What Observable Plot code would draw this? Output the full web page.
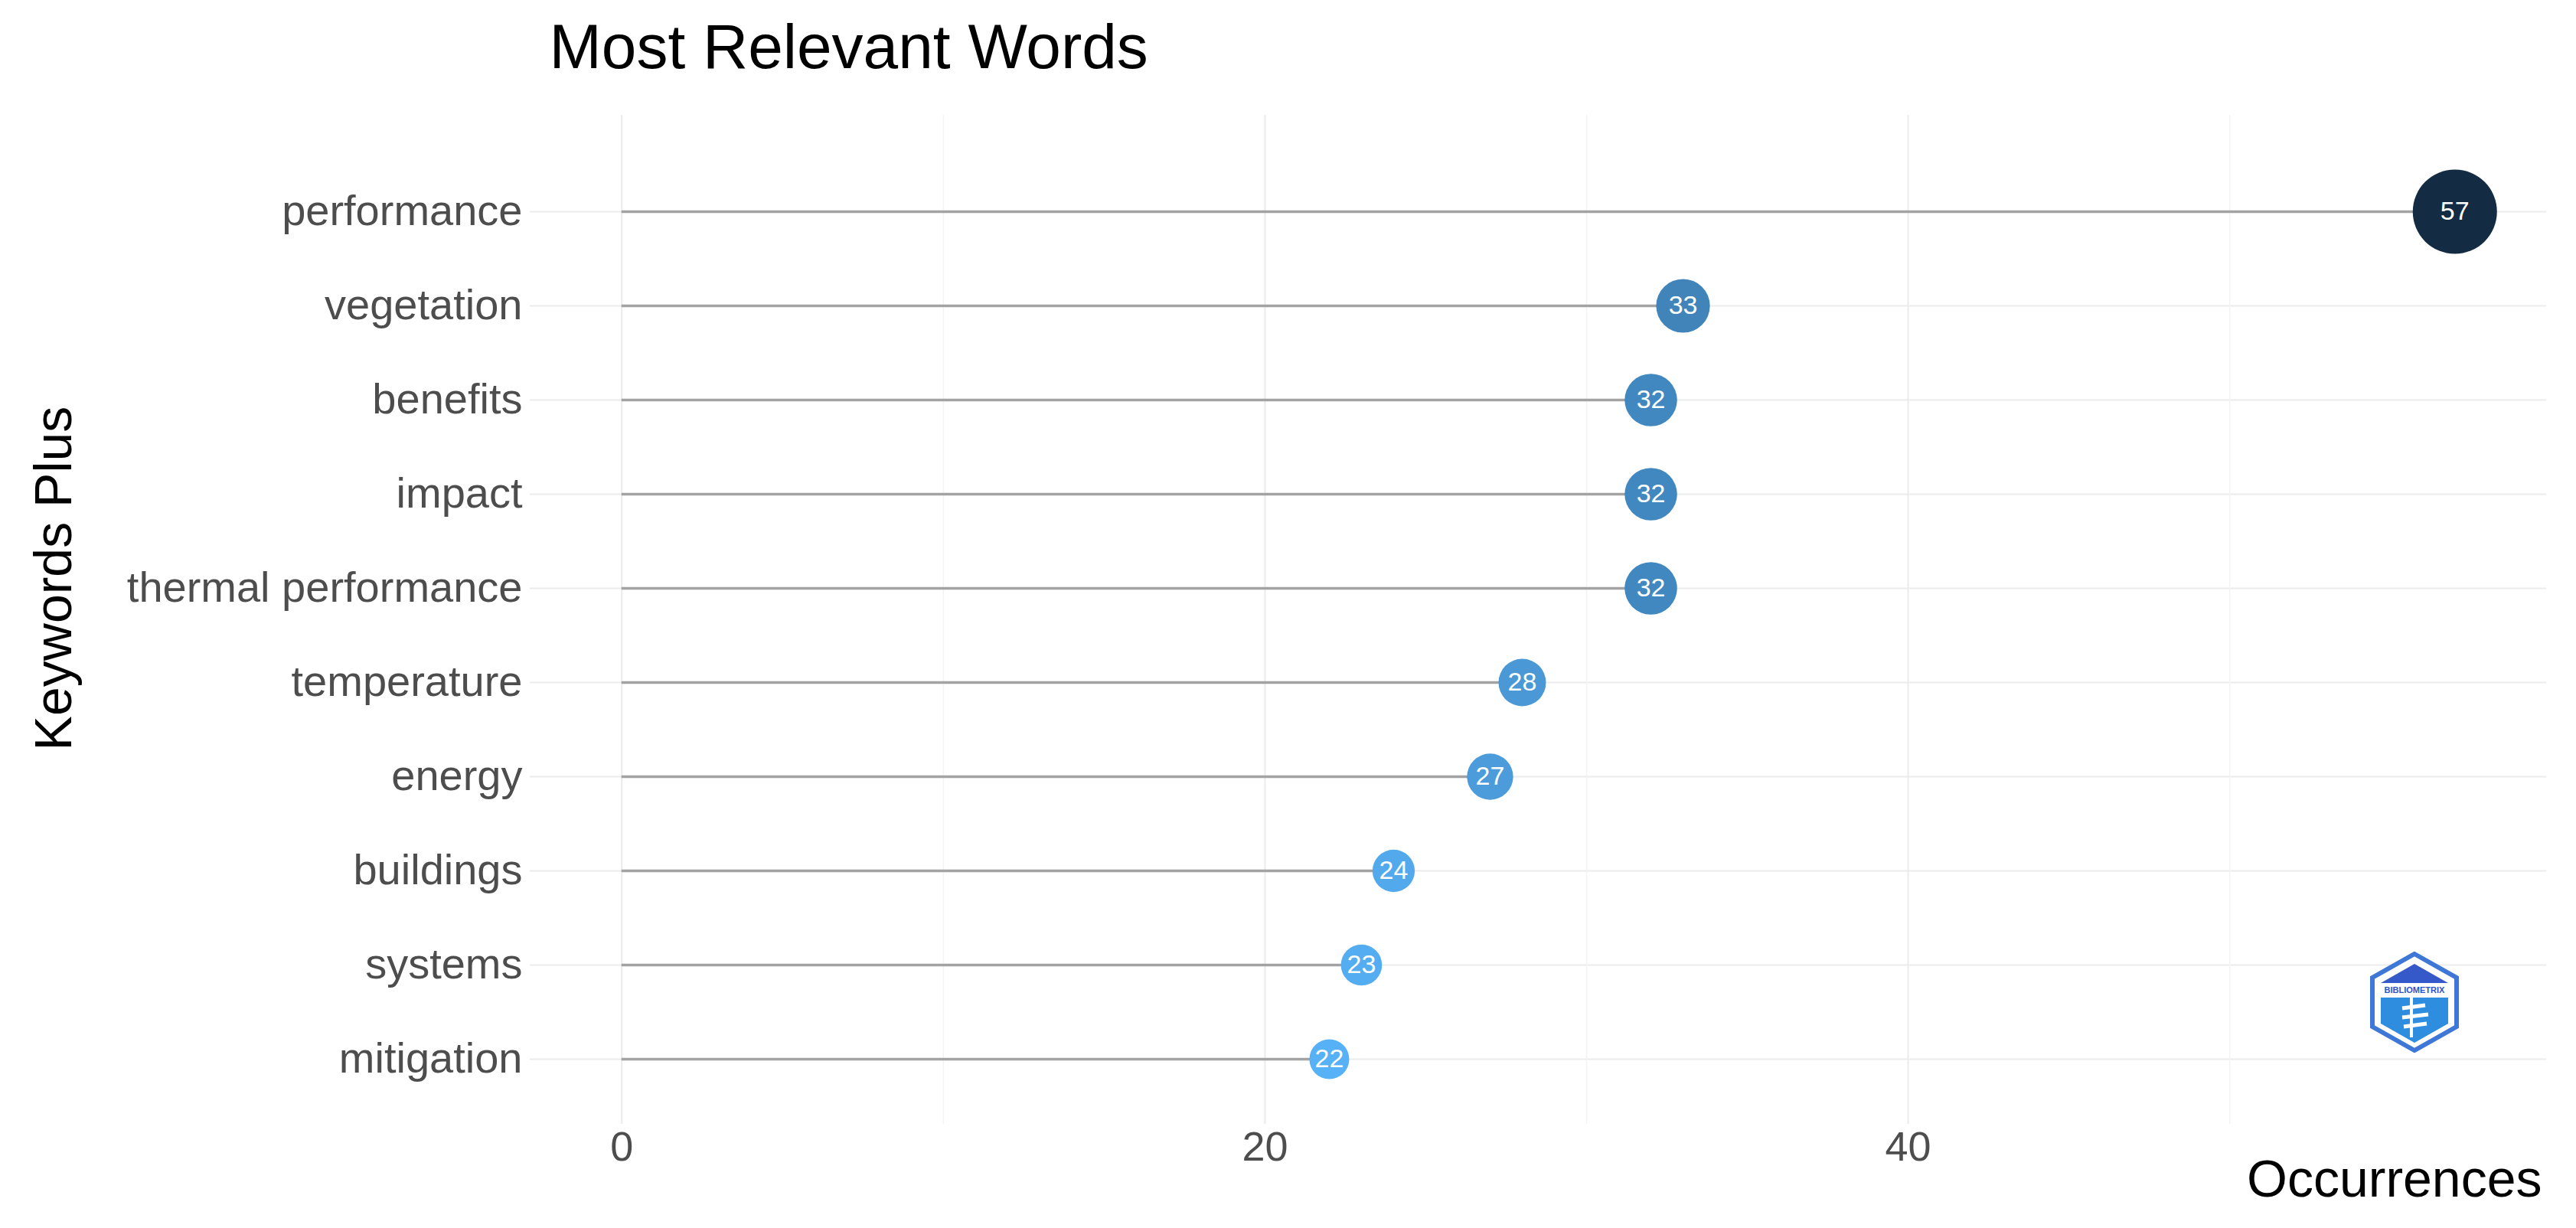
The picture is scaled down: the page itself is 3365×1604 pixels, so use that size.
<!DOCTYPE html>
<html>
<head>
<meta charset="utf-8">
<script src="https://cdn.jsdelivr.net/npm/d3@7"></script>
<script src="https://cdn.jsdelivr.net/npm/@observablehq/plot@0.6"></script>
<style>
  html, body { margin: 0; padding: 0; background: #ffffff; }
  #wrap { position: relative; width: 3365px; height: 1604px; overflow: hidden; }
  #logo { position: absolute; left: 3094px; top: 1243px; width: 120px; height: 132px; }
</style>
</head>
<body>
<div id="wrap"></div>
<script>
// ---- data ----
const words = ["performance", "vegetation", "benefits", "impact", "thermal performance",
               "temperature", "energy", "buildings", "systems", "mitigation"];
const occurrences = [57, 33, 32, 32, 32, 28, 27, 24, 23, 22];
const xTicks = [0, 20, 40];
const xMinorTicks = [10, 30, 50];
const titleText = ["Most Relevant Words"];
const xLabel = ["Occurrences"];
const yLabel = ["Keywords Plus"];

const data = words.map((w, i) => ({word: w, n: occurrences[i]}));

const font = "'Liberation Sans', Arial, Helvetica, sans-serif";

const chart = Plot.plot({
  width: 3365,
  height: 1604,
  marginLeft: 692,
  marginRight: 39,
  marginTop: 150,
  marginBottom: 136,
  style: {fontFamily: font, background: "#ffffff", overflow: "visible"},
  x: {domain: [-2.85, 59.85]},
  y: {type: "point", domain: words, range: [272, 1386], padding: 0},
  r: {type: "linear", domain: [22, 57], range: [26, 55]},
  color: {type: "linear", domain: [22, 57], range: ["#56B1F7", "#132B43"], interpolate: "lab"},
  marks: [
    // grid
    Plot.ruleY(words, {y: d => d, stroke: "#ececec", strokeWidth: 2}),
    Plot.ruleX(xMinorTicks, {stroke: "#f3f3f3", strokeWidth: 1.5}),
    Plot.ruleX(xTicks, {stroke: "#ebebeb", strokeWidth: 2}),
    // lollipop stems
    Plot.ruleY(data, {y: "word", x1: 0, x2: "n", stroke: "#a3a3a3", strokeWidth: 3.5}),
    // dots
    Plot.dot(data, {x: "n", y: "word", r: "n", fill: "n", stroke: null}),
    Plot.text(data, {x: "n", y: "word", text: d => String(d.n), fill: "#ffffff", fontSize: 34}),
    // axes
    Plot.axisX({ticks: xTicks, tickSize: 0, tickPadding: 9, fontSize: 54, fill: "#4d4d4d", label: null}),
    Plot.axisY({tickSize: 0, tickPadding: 10, fontSize: 56, fill: "#4d4d4d", label: null}),
    // titles
    Plot.text(titleText, {frameAnchor: "top-left", textAnchor: "start", lineAnchor: "bottom",
      dx: 25, dy: -62, fontSize: 82, fill: "#000000"}),
    Plot.text(xLabel, {frameAnchor: "bottom-right", textAnchor: "end", lineAnchor: "middle",
      dx: -6, dy: 73, fontSize: 68, fill: "#000000"}),
    Plot.text(yLabel, {frameAnchor: "left", textAnchor: "middle", lineAnchor: "middle",
      rotate: -90, dx: -621, dy: -54, fontSize: 68, fill: "#000000"})
  ]
});

const wrap = document.getElementById("wrap");
wrap.appendChild(chart);

// decorative logo (not data)
const logo = document.createElement("div");
logo.id = "logo";
logo.innerHTML = `
<svg viewBox="0 0 120 132" width="120" height="132" xmlns="http://www.w3.org/2000/svg">
  <polygon points="60,3 115,34 115,98 60,129 5,98 5,34" fill="#ffffff" stroke="#3f77d6" stroke-width="6"/>
  <polygon points="60,16 104,41 16,41" fill="#3559c9"/>
  <rect x="14" y="44" width="92" height="12" fill="#ffffff"/>
  <text x="60" y="54" text-anchor="middle" font-family="${font}" font-size="11" font-weight="bold" fill="#2a56c6">BIBLIOMETRIX</text>
  <polygon points="16,60 104,60 104,94 60,119 16,94" fill="#2f8de0"/>
  <path d="M44,74 L74,70 M44,86 L78,82 M46,98 L76,94" stroke="#ffffff" stroke-width="5" fill="none"/>
  <path d="M56,60 L56,112" stroke="#ffffff" stroke-width="4" fill="none"/>
</svg>`;
wrap.appendChild(logo);
</script>
</body>
</html>
